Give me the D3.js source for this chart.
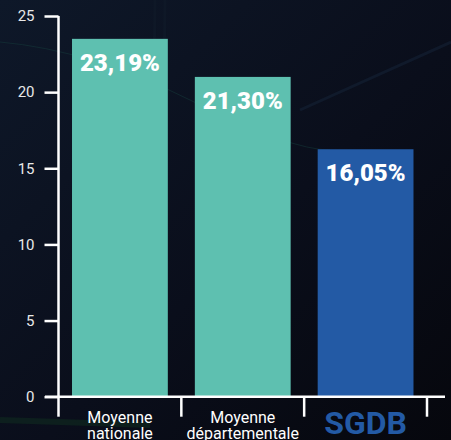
<!DOCTYPE html>
<html>
<head>
<meta charset="utf-8">
<script src="https://cdn.jsdelivr.net/npm/d3@7"></script>
<style>
  body { margin: 0; background: #0a0f1c; }
  svg { display: block; font-family: Roboto, sans-serif; }
</style>
</head>
<body>
<div id="chart"></div>
<script>
// Chart data
var categories = ["nat", "dep", "sgdb"];
var values = [23.5, 21.0, 16.25];
var valueLabels = ["23,19%", "21,30%", "16,05%"];
var categoryLabels = [["Moyenne", "nationale"], ["Moyenne", "départementale"], ["SGDB"]];
var barColors = ["#5ec0b0", "#5ec0b0", "#235aa5"];
var yTicks = [0, 5, 10, 15, 20, 25];

var svgWidth = 451;
var svgHeight = 440;

var svg = d3.select("#chart")
    .append("svg")
    .attr("width", svgWidth)
    .attr("height", svgHeight);

// Background gradient
var defs = svg.append("defs");
var grad = defs.append("linearGradient")
    .attr("id", "bg")
    .attr("x1", "0").attr("y1", "0")
    .attr("x2", "1").attr("y2", "1");
grad.append("stop").attr("offset", "0%").attr("stop-color", "#0e1829");
grad.append("stop").attr("offset", "55%").attr("stop-color", "#0a0e1b");
grad.append("stop").attr("offset", "100%").attr("stop-color", "#06070d");

svg.append("rect")
    .attr("width", svgWidth)
    .attr("height", svgHeight)
    .attr("fill", "url(#bg)");

// faint decorative light streaks
var deco = svg.append("g").attr("fill", "none");
deco.append("path")
    .attr("d", "M0,42 Q90,50 190,100 T330,150")
    .attr("stroke", "#17403d").attr("stroke-width", 1).attr("opacity", 0.45);
deco.append("path")
    .attr("d", "M300,110 L451,42")
    .attr("stroke", "#142135").attr("stroke-width", 3).attr("opacity", 0.6);
deco.append("path")
    .attr("d", "M0,420 L150,425")
    .attr("stroke", "#0f3020").attr("stroke-width", 6).attr("opacity", 0.5);
deco.append("path")
    .attr("d", "M155,0 L152,220 M165,0 L162,220")
    .attr("stroke", "#101a2a").attr("stroke-width", 3).attr("opacity", 0.6);

var xLeft = 58.5, xRight = 427;
var yBottom = 396.7, yTop = 16;

var xScale = d3.scaleBand()
    .domain(categories)
    .range([xLeft, xRight])
    .paddingInner(0.22)
    .paddingOuter(0.11);

var yScale = d3.scaleLinear()
    .domain([0, 25])
    .range([yBottom, yTop]);

// Bars
var bars = svg.append("g");
bars.selectAll("rect")
    .data(categories)
    .enter()
    .append("rect")
    .attr("x", d => xScale(d))
    .attr("y", (d, i) => yScale(values[i]))
    .attr("width", xScale.bandwidth())
    .attr("height", (d, i) => yBottom - yScale(values[i]))
    .attr("fill", (d, i) => barColors[i]);

// Value labels inside bars
bars.selectAll("text")
    .data(categories)
    .enter()
    .append("text")
    .attr("x", d => xScale(d) + xScale.bandwidth() / 2)
    .attr("y", (d, i) => yScale(values[i]) + 32)
    .attr("text-anchor", "middle")
    .attr("fill", "#ffffff")
    .attr("font-weight", "900")
    .attr("font-size", "24px")
    .text((d, i) => valueLabels[i]);

// Y axis
var yAxis = svg.append("g")
    .attr("transform", `translate(${xLeft}, 0)`)
    .call(d3.axisLeft(yScale).tickValues(yTicks).tickSize(14).tickPadding(10));
yAxis.select(".domain")
    .attr("d", `M0,${yTop}V${yBottom}`)
    .attr("stroke", "#ffffff").attr("stroke-width", 2.5);
yAxis.selectAll(".tick line").attr("stroke", "#ffffff").attr("stroke-width", 2.5);
yAxis.selectAll(".tick text")
    .attr("fill", "#e8e8e8")
    .attr("font-size", "15px")
    .attr("font-family", "Roboto, sans-serif");

// X axis
var xAxis = svg.append("g")
    .attr("transform", `translate(0, ${yBottom})`);
xAxis.append("line")
    .attr("x1", 45).attr("x2", 445)
    .attr("stroke", "#ffffff").attr("stroke-width", 2.5);
var xEdges = categories.map(d => xScale(d) - xScale.step() * xScale.paddingInner() / 2);
xEdges.push(xRight);
xAxis.selectAll(".xtick")
    .data(xEdges)
    .enter()
    .append("line")
    .attr("class", "xtick")
    .attr("x1", d => d).attr("x2", d => d)
    .attr("y1", 0).attr("y2", 20)
    .attr("stroke", "#ffffff").attr("stroke-width", 2.5);

// Category labels
var catGroup = xAxis.selectAll(".cat")
    .data(categories)
    .enter()
    .append("text")
    .attr("class", "cat")
    .attr("text-anchor", "middle")
    .attr("x", d => xScale(d) + xScale.bandwidth() / 2);

catGroup.each(function(d, i) {
    var lines = categoryLabels[i];
    var t = d3.select(this);
    if (lines.length === 1) {
        t.attr("y", 37)
            .attr("fill", "#235aa5")
            .attr("font-weight", "bold")
            .attr("font-size", "32px")
            .text(lines[0]);
    } else {
        t.attr("fill", "#ffffff").attr("font-size", "16px");
        lines.forEach(function(l, j) {
            t.append("tspan")
                .attr("x", xScale(d) + xScale.bandwidth() / 2)
                .attr("y", 26 + j * 16)
                .text(l);
        });
    }
});
</script>
</body>
</html>
